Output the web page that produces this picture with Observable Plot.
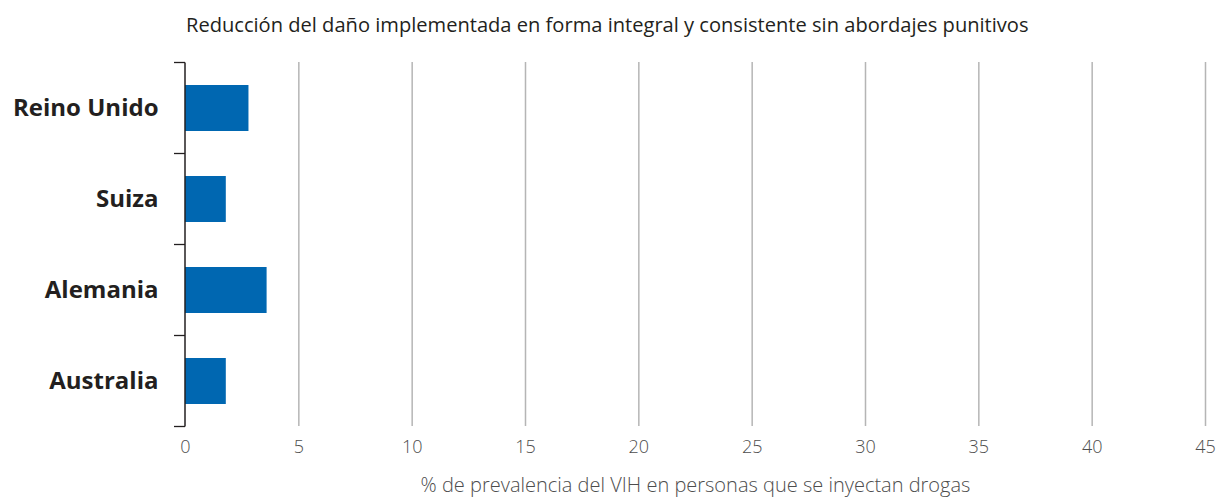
<!DOCTYPE html>
<html>
<head>
<meta charset="utf-8">
<script src="https://cdn.jsdelivr.net/npm/d3@7"></script>
<script src="https://cdn.jsdelivr.net/npm/@observablehq/plot@0.6"></script>
<style>
  html, body { margin: 0; padding: 0; background: #fff; }
  #title { height: 50px; line-height: 50px; padding-left: 186px; font-family: "Open Sans", sans-serif; font-size: 20.1px; color: #231f20; white-space: nowrap; }
</style>
</head>
<body>
<div id="title"></div>
<div id="chart"></div>
<script>
const titleText = "Reducción del daño implementada en forma integral y consistente sin abordajes punitivos";
const xLabel = "% de prevalencia del VIH en personas que se inyectan drogas";
const countries = ["Reino Unido", "Suiza", "Alemania", "Australia"];
const prevalence = [2.8, 1.8, 3.6, 1.8];
const xTicks = [0, 5, 10, 15, 20, 25, 30, 35, 40, 45];
const gridTicks = [5, 10, 15, 20, 25, 30, 35, 40, 45];

document.getElementById("title").textContent = titleText;

const data = countries.map((c, i) => ({country: c, value: prevalence[i]}));

const bandTicks = (index, scales, values, dimensions) => {
  const g = d3.create("svg:g");
  const y = scales.y;
  const step = y.step();
  const x0 = scales.x(0);
  const top = y(countries[0]) - (step - y.bandwidth()) / 2;
  const bounds = d3.range(countries.length + 1).map(i => top + i * step);
  g.selectAll("line.tick").data(bounds).join("line")
    .attr("x1", x0 - 11).attr("x2", x0)
    .attr("y1", d => d).attr("y2", d => d)
    .attr("stroke", "#231f20").attr("stroke-width", 1.3);
  g.append("line")
    .attr("x1", x0).attr("x2", x0)
    .attr("y1", bounds[0]).attr("y2", bounds[bounds.length - 1])
    .attr("stroke", "#231f20").attr("stroke-width", 1.5);
  return g.node();
};

const chart = Plot.plot({
  width: 1217,
  height: 447,
  marginTop: 12,
  marginBottom: 71,
  marginLeft: 185,
  marginRight: 12,
  style: {fontFamily: "'Open Sans', sans-serif", background: "#fff"},
  x: {domain: [0, 45]},
  y: {domain: countries, paddingInner: 0.5, paddingOuter: 0.25},
  marks: [
    Plot.gridX(gridTicks, {stroke: "#b5b5b5", strokeOpacity: 1, strokeWidth: 1.5}),
    Plot.barX(data, {x: "value", y: "country", fill: "#0067b1"}),
    bandTicks,
    Plot.axisY({tickSize: 0, tickPadding: 27, fontSize: 24, fontWeight: "bold", fill: "#231f20", label: null}),
    Plot.axisX(xTicks, {tickSize: 0, tickPadding: 14, fontSize: 18, fontWeight: 300, fill: "#4d4d4d", label: null}),
    Plot.text([xLabel], {frameAnchor: "bottom", lineAnchor: "middle", dy: 59, fontSize: 20, fontWeight: 300, fill: "#4d4d4d", text: d => d})
  ]
});
document.getElementById("chart").appendChild(chart);
</script>
</body>
</html>
